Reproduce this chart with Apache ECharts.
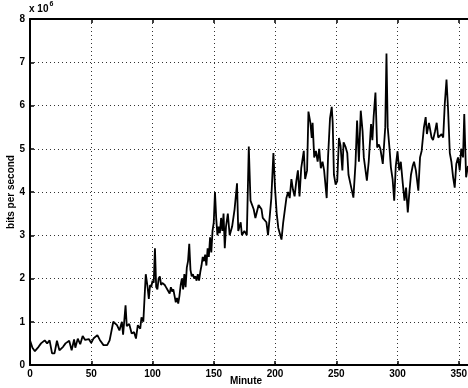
<!DOCTYPE html>
<html>
<head>
<meta charset="utf-8">
<script src="https://cdn.jsdelivr.net/npm/echarts@6/dist/echarts.min.js"></script>
<style>html,body{margin:0;padding:0;background:#fff;}#c{width:468px;height:388px;}</style>
</head>
<body>
<div id="c"></div>
<script>
const xTicks = [0, 50, 100, 150, 200, 250, 300, 350];
const yTicks = [0, 1, 2, 3, 4, 5, 6, 7, 8];
const minutes = [
 0,2,4,5,7,9,12,14,16,18,20,22,24,27,29,32,34,36,37,39,41,43,45,48,50,52,55,57,60,63,65,68,71,73,75,76,78,79,81,83,85,86.5,88,90,91,92.5,94.5,96,97,98,99,100,101,102,103,104,105,106,107,108,110,111,112,114,115,116,117,118,119,120,121,122,123,124,125,126,127,128,129,130,131,132,133,134,135,136,137,138,139,140,141,142,143,144,145,146,147,148,149,150,151,152,153,154,155,156,157,158,159,160,161.5,163,165,167,169,170,172,173,175,177,178.6,180,182.6,184,186.6,189,190,193,194.3,195.6,197,198.7,200,201.4,202.7,205.3,206.7,209.3,210.7,212,213.4,214.7,216,217.4,218.7,220,221.4,223.5,224.6,226.2,227.3,228.9,230,230.7,232,233.4,234.8,236.1,237.4,238.8,240.1,242.2,243.3,244.9,246.3,247.1,248.1,249.5,250.8,252.2,253.5,255,256,257.5,259,260,261.5,264,265.7,267,268.5,270,271.5,272.5,275,276.5,278.4,279.5,280.5,282,283.4,284.8,286,288,290,291,292,293.5,294.6,296,297.3,298.6,300,301.4,302.7,304.3,305.7,307,308.4,309.7,311,312.4,313.5,315,317,318.4,319.7,321.6,323,324,325.7,327.8,329,330.6,332,333.2,334.6,336,337.3,338.6,340,341.3,342.7,344,345.4,346.7,348,349.4,350.8,352,353.5,354.5,356,357.5,359
];
const bps = [
 0.57,0.4,0.32,0.3,0.42,0.5,0.57,0.5,0.57,0.27,0.27,0.56,0.34,0.42,0.5,0.56,0.34,0.59,0.4,0.61,0.48,0.67,0.58,0.6,0.51,0.62,0.69,0.58,0.46,0.46,0.57,1.0,0.92,0.8,1.0,0.7,1.38,0.9,0.95,0.73,0.76,0.61,0.92,0.84,1.1,1.0,2.1,1.8,1.53,1.85,1.8,1.95,1.9,2.7,1.8,1.75,2.0,2.05,1.85,1.9,1.85,1.8,1.75,1.65,1.8,1.7,1.75,1.6,1.45,1.55,1.42,1.6,1.85,2.0,1.75,2.1,1.8,2.25,2.4,2.8,2.2,2.05,2.1,2.0,2.05,1.95,2.1,1.95,2.15,2.3,2.5,2.4,2.55,2.3,2.7,2.5,2.95,2.6,3.1,3.3,4.0,3.4,3.0,3.2,3.05,3.4,3.1,3.5,2.7,3.2,3.5,3.0,3.2,3.6,4.2,3.1,3.3,3.0,3.1,3.0,5.05,3.8,3.6,3.4,3.7,3.6,3.4,3.3,3.0,3.4,3.86,4.9,4.1,3.5,3.17,2.9,3.3,3.86,4.0,3.86,4.3,4.05,3.9,4.25,4.5,3.9,4.55,4.95,4.3,4.5,5.86,5.6,5.25,5.6,4.8,4.95,4.7,5.0,4.55,4.7,4.5,3.86,4.8,5.7,5.97,5.6,4.4,4.17,4.25,5.25,5.07,4.5,5.15,5.05,4.9,4.4,4.2,3.87,4.65,5.65,4.7,5.88,5.4,4.8,4.26,4.7,5.57,5.2,5.73,6.3,5.03,5.1,5.0,4.65,5.5,7.2,5.5,5.0,4.57,4.3,3.8,4.6,4.94,4.5,4.7,4.2,3.8,4.1,3.53,4.0,4.4,4.6,4.7,4.5,4.03,4.8,4.95,5.5,5.73,5.34,5.6,5.26,5.2,5.4,5.6,5.26,5.26,5.34,5.26,6.04,6.6,5.9,4.9,4.7,4.34,4.1,4.65,4.8,4.5,5.0,4.8,5.8,4.34,4.6,4.5
];
const data = minutes.map((m, i) => [m, bps[i]]);
const chart = echarts.init(document.getElementById('c'), null, {renderer: 'canvas'});
const font = 'Liberation Sans';
chart.setOption({
  animation: false,
  backgroundColor: '#fff',
  grid: {left: 30, top: 19, width: 441, height: 346, show: false, containLabel: false, outerBoundsMode: 'none'},
  xAxis: [{
    type: 'value', min: 0, max: 360, interval: 50,
    axisLine: {show: true, lineStyle: {color: '#000', width: 2}},
    axisTick: {show: true, inside: true, length: 4, lineStyle: {color: '#000', width: 1.5}},
    axisLabel: {fontFamily: font, fontSize: 10, color: '#000', fontWeight: 'bold', margin: 4},
    splitLine: {show: true, lineStyle: {color: '#333', type: [1, 3], width: 1}}
  }, {
    type: 'value', min: 0, max: 360, interval: 50, position: 'top',
    axisLine: {show: true, onZero: false, lineStyle: {color: '#000', width: 2}},
    axisTick: {show: true, inside: true, length: 4, lineStyle: {color: '#000', width: 1.5}},
    axisLabel: {show: false}, splitLine: {show: false}
  }],
  yAxis: [{
    type: 'value', min: 0, max: 8, interval: 1,
    axisLine: {show: true, lineStyle: {color: '#000', width: 2}},
    axisTick: {show: true, inside: true, length: 4, lineStyle: {color: '#000', width: 1.5}},
    axisLabel: {fontFamily: font, fontSize: 10, color: '#000', fontWeight: 'bold', margin: 5},
    splitLine: {show: true, lineStyle: {color: '#333', type: [1, 3], width: 1}}
  }],
  graphic: [{
    type: 'text', left: 29, top: 1,
    style: {
      text: '{a|x 10}{s|6}',
      rich: {
        a: {fontFamily: font, fontSize: 10, fontWeight: 'bold', fill: '#000', verticalAlign: 'bottom'},
        s: {fontFamily: font, fontSize: 7, fontWeight: 'bold', fill: '#000', verticalAlign: 'top', padding: [0, 0, 6, 1]}
      }
    }
  }, {
    type: 'text', x: 246, y: 381,
    style: {text: 'Minute', fontFamily: font, fontSize: 10, fontWeight: 'bold', fill: '#000', align: 'center', verticalAlign: 'middle'}
  }, {
    type: 'text', x: 11, y: 192, rotation: Math.PI / 2,
    style: {text: 'bits per second', fontFamily: font, fontSize: 10, fontWeight: 'bold', fill: '#000', align: 'center', verticalAlign: 'middle'}
  }],
  series: [{
    type: 'line', data: data, xAxisIndex: 0, yAxisIndex: 0,
    showSymbol: false, symbol: 'none',
    lineStyle: {color: '#000', width: 1.8}
  }]
});
</script>
</body>
</html>
